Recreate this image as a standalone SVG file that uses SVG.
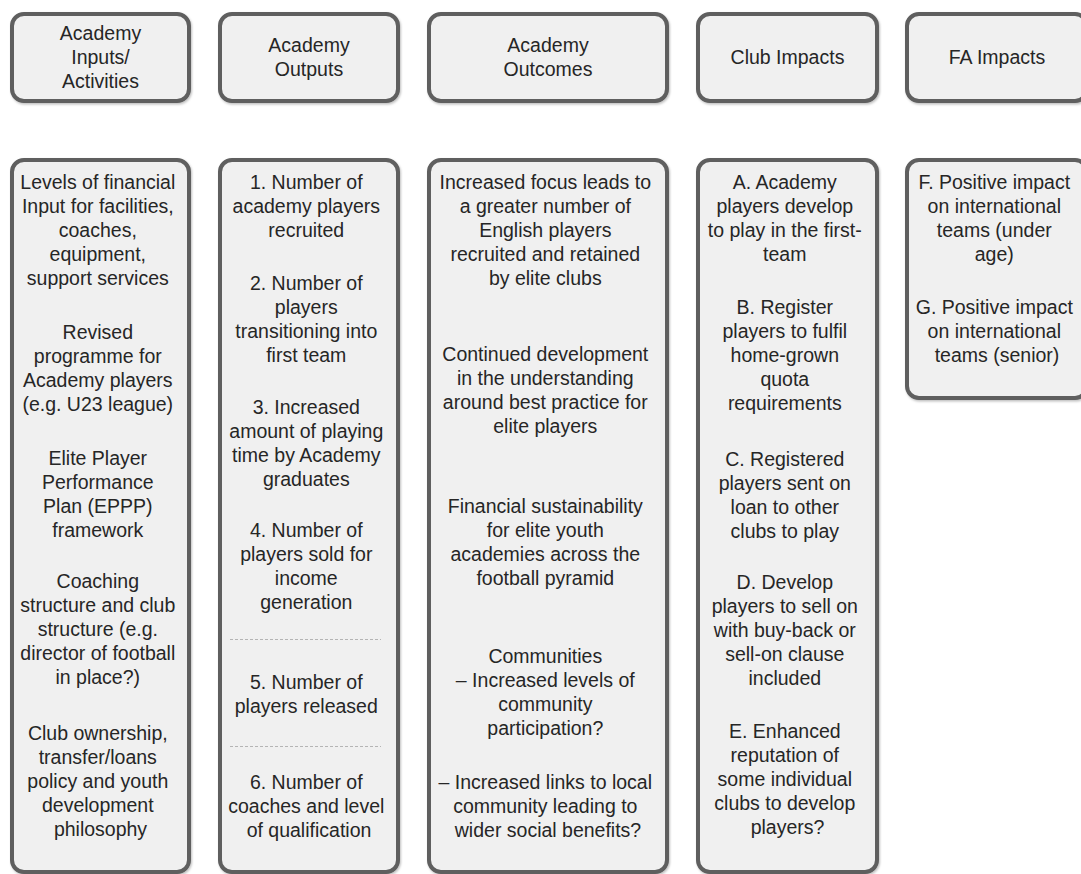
<svg xmlns="http://www.w3.org/2000/svg" width="1081" height="874" viewBox="0 0 1081 874">
  <defs>
    <filter id="shadow" x="-5%" y="-5%" width="115%" height="115%">
      <feDropShadow dx="1" dy="1.5" stdDeviation="1.2" flood-color="#000" flood-opacity="0.25"/>
    </filter>
    <style>
      .box { fill: #f0f0f0; stroke: #5e5e5e; stroke-width: 4; filter: url(#shadow); }
      .lbl { font-family: "Liberation Sans", Arial, Helvetica, sans-serif; font-size: 19.5px; fill: #262626; text-anchor: middle; }
      .sep { stroke: #b4b4b4; stroke-width: 1; stroke-dasharray: 3 2; fill: none; }
    </style>
  </defs>

  <rect x="0" y="0" width="1081" height="874" fill="#ffffff"/>

  <!-- Column headers -->
  <g id="head-inputs">
    <rect class="box" x="12" y="14" width="177" height="87" rx="12"/>
    <text class="lbl"><tspan x="100.5" y="40">Academy</tspan><tspan x="100.5" y="64">Inputs/</tspan><tspan x="100.5" y="88">Activities</tspan></text>
  </g>
  <g id="head-outputs">
    <rect class="box" x="220" y="14" width="178" height="87" rx="12"/>
    <text class="lbl"><tspan x="309" y="52">Academy</tspan><tspan x="309" y="76">Outputs</tspan></text>
  </g>
  <g id="head-outcomes">
    <rect class="box" x="429" y="14" width="238" height="87" rx="12"/>
    <text class="lbl"><tspan x="548" y="52">Academy</tspan><tspan x="548" y="76">Outcomes</tspan></text>
  </g>
  <g id="head-club">
    <rect class="box" x="698" y="14" width="179" height="87" rx="12"/>
    <text class="lbl"><tspan x="787.5" y="64">Club Impacts</tspan></text>
  </g>
  <g id="head-fa">
    <rect class="box" x="907" y="14" width="180" height="87" rx="12"/>
    <text class="lbl"><tspan x="997" y="64">FA Impacts</tspan></text>
  </g>

  <!-- Column bodies -->
  <g id="body-inputs">
    <rect class="box" x="12" y="160" width="177" height="712" rx="12"/>
    <text class="lbl">
      <tspan x="100.5" y="189">Levels of financial</tspan>
      <tspan x="100.5" y="213">Input for facilities,</tspan>
      <tspan x="100.5" y="237">coaches,</tspan>
      <tspan x="100.5" y="261">equipment,</tspan>
      <tspan x="100.5" y="285">support services</tspan>
      <tspan x="100.5" y="339">Revised</tspan>
      <tspan x="100.5" y="363">programme for</tspan>
      <tspan x="100.5" y="387">Academy players</tspan>
      <tspan x="100.5" y="411">(e.g. U23 league)</tspan>
      <tspan x="100.5" y="465">Elite Player</tspan>
      <tspan x="100.5" y="489">Performance</tspan>
      <tspan x="100.5" y="513">Plan (EPPP)</tspan>
      <tspan x="100.5" y="537">framework</tspan>
      <tspan x="100.5" y="588">Coaching</tspan>
      <tspan x="100.5" y="612">structure and club</tspan>
      <tspan x="100.5" y="636">structure (e.g.</tspan>
      <tspan x="100.5" y="660">director of football</tspan>
      <tspan x="100.5" y="684">in place?)</tspan>
      <tspan x="100.5" y="740">Club ownership,</tspan>
      <tspan x="100.5" y="764">transfer/loans</tspan>
      <tspan x="100.5" y="788">policy and youth</tspan>
      <tspan x="100.5" y="812">development</tspan>
      <tspan x="100.5" y="836">philosophy</tspan>
    </text>
  </g>

  <g id="body-outputs">
    <rect class="box" x="220" y="160" width="178" height="712" rx="12"/>
    <text class="lbl">
      <tspan x="309" y="189">1. Number of</tspan>
      <tspan x="309" y="213">academy players</tspan>
      <tspan x="309" y="237">recruited</tspan>
      <tspan x="309" y="290">2. Number of</tspan>
      <tspan x="309" y="314">players</tspan>
      <tspan x="309" y="338">transitioning into</tspan>
      <tspan x="309" y="362">first team</tspan>
      <tspan x="309" y="414">3. Increased</tspan>
      <tspan x="309" y="438">amount of playing</tspan>
      <tspan x="309" y="462">time by Academy</tspan>
      <tspan x="309" y="486">graduates</tspan>
      <tspan x="309" y="537">4. Number of</tspan>
      <tspan x="309" y="561">players sold for</tspan>
      <tspan x="309" y="585">income</tspan>
      <tspan x="309" y="609">generation</tspan>
      <tspan x="309" y="689">5. Number of</tspan>
      <tspan x="309" y="713">players released</tspan>
      <tspan x="309" y="789">6. Number of</tspan>
      <tspan x="309" y="813">coaches and level</tspan>
      <tspan x="309" y="837">of qualification</tspan>
    </text>
    <line class="sep" x1="230" y1="639.5" x2="381" y2="639.5"/>
    <line class="sep" x1="230" y1="746.5" x2="381" y2="746.5"/>
  </g>

  <g id="body-outcomes">
    <rect class="box" x="429" y="160" width="238" height="712" rx="12"/>
    <text class="lbl">
      <tspan x="548" y="189">Increased focus leads to</tspan>
      <tspan x="548" y="213">a greater number of</tspan>
      <tspan x="548" y="237">English players</tspan>
      <tspan x="548" y="261">recruited and retained</tspan>
      <tspan x="548" y="285">by elite clubs</tspan>
      <tspan x="548" y="361">Continued development</tspan>
      <tspan x="548" y="385">in the understanding</tspan>
      <tspan x="548" y="409">around best practice for</tspan>
      <tspan x="548" y="433">elite players</tspan>
      <tspan x="548" y="513">Financial sustainability</tspan>
      <tspan x="548" y="537">for elite youth</tspan>
      <tspan x="548" y="561">academies across the</tspan>
      <tspan x="548" y="585">football pyramid</tspan>
      <tspan x="548" y="663">Communities</tspan>
      <tspan x="548" y="687">– Increased levels of</tspan>
      <tspan x="548" y="711">community</tspan>
      <tspan x="548" y="735">participation?</tspan>
      <tspan x="548" y="789">– Increased links to local</tspan>
      <tspan x="548" y="813">community leading to</tspan>
      <tspan x="548" y="837">wider social benefits?</tspan>
    </text>
  </g>

  <g id="body-club">
    <rect class="box" x="698" y="160" width="179" height="712" rx="12"/>
    <text class="lbl">
      <tspan x="787.5" y="189">A. Academy</tspan>
      <tspan x="787.5" y="213">players develop</tspan>
      <tspan x="787.5" y="237">to play in the first-</tspan>
      <tspan x="787.5" y="261">team</tspan>
      <tspan x="787.5" y="314">B. Register</tspan>
      <tspan x="787.5" y="338">players to fulfil</tspan>
      <tspan x="787.5" y="362">home-grown</tspan>
      <tspan x="787.5" y="386">quota</tspan>
      <tspan x="787.5" y="410">requirements</tspan>
      <tspan x="787.5" y="466">C. Registered</tspan>
      <tspan x="787.5" y="490">players sent on</tspan>
      <tspan x="787.5" y="514">loan to other</tspan>
      <tspan x="787.5" y="538">clubs to play</tspan>
      <tspan x="787.5" y="589">D. Develop</tspan>
      <tspan x="787.5" y="613">players to sell on</tspan>
      <tspan x="787.5" y="637">with buy-back or</tspan>
      <tspan x="787.5" y="661">sell-on clause</tspan>
      <tspan x="787.5" y="685">included</tspan>
      <tspan x="787.5" y="738">E. Enhanced</tspan>
      <tspan x="787.5" y="762">reputation of</tspan>
      <tspan x="787.5" y="786">some individual</tspan>
      <tspan x="787.5" y="810">clubs to develop</tspan>
      <tspan x="787.5" y="834">players?</tspan>
    </text>
  </g>

  <g id="body-fa">
    <rect class="box" x="907" y="160" width="180" height="238" rx="12"/>
    <text class="lbl">
      <tspan x="997" y="189">F. Positive impact</tspan>
      <tspan x="997" y="213">on international</tspan>
      <tspan x="997" y="237">teams (under</tspan>
      <tspan x="997" y="261">age)</tspan>
      <tspan x="997" y="314">G. Positive impact</tspan>
      <tspan x="997" y="338">on international</tspan>
      <tspan x="997" y="362">teams (senior)</tspan>
    </text>
  </g>
</svg>
